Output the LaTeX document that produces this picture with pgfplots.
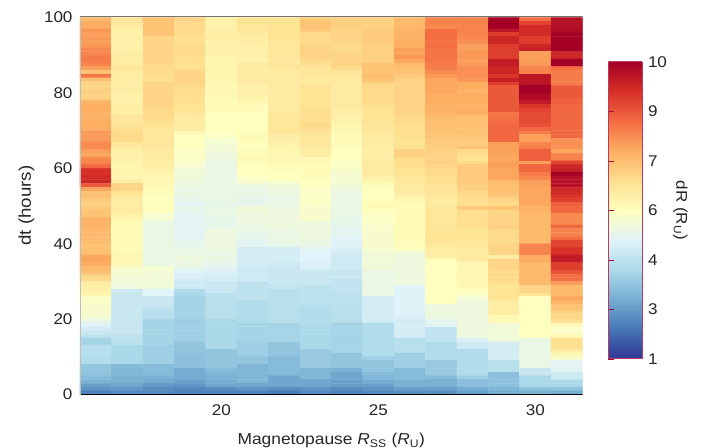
\documentclass[border=0pt]{standalone}
\usepackage{pgfplots}
\pgfplotsset{compat=1.18}
\usepackage{fontspec}
\setmainfont[FakeStretch=1.1]{Liberation Sans}
\pgfplotsset{colormap={rdylbu}{rgb255=(49,54,149) rgb255=(69,117,180) rgb255=(116,173,209) rgb255=(171,217,233) rgb255=(224,243,248) rgb255=(255,255,191) rgb255=(254,224,144) rgb255=(253,174,97) rgb255=(244,109,67) rgb255=(215,48,39) rgb255=(165,0,38)}}
\definecolor{barline}{RGB}{165,10,60}
\begin{document}
\begin{tikzpicture}
\useasboundingbox (-80bp,-53.4bp) rectangle (623bp,394.6bp);
\begin{axis}[
 at={(0,0)},anchor=origin,
 scale only axis,width=502.5bp,height=378bp,
 xmin=15.5,xmax=31.5,ymin=0,ymax=100.27,
 colormap name=rdylbu,point meta min=1,point meta max=10,
 axis line style={draw=none},
 font=\fontsize{15.5bp}{18bp}\selectfont,
 /pgf/number format/assume math mode=true,
 xtick={20,25,30},ytick={0,20,40,60,80,100},
 tick align=inside,x tick style={black,line width=.8pt},major tick length=2.5bp,
 y tick style={draw=none},
 xtick pos=bottom,ytick pos=left,
 tick label style={text=black!85},
 xticklabel style={yshift=-7bp},
 yticklabel style={xshift=-4bp},
 xlabel={Magnetopause \textit{R}\textsubscript{SS} (\textit{R}\textsubscript{U})},
 ylabel={dt (hours)},
 xlabel style={at={(0.5,0)},anchor=base,yshift=-50bp,text=black!85,font=\fontsize{15.8bp}{18bp}\selectfont},
 ylabel style={at={(0,0.5)},anchor=base,yshift=49bp,text=black!85,font=\fontsize{17bp}{18bp}\selectfont},
 colorbar sampled,
 colorbar style={
  at={(1.0517,0.0944)},anchor=south west,
  scale only axis,width=34bp,height=297bp,
  samples=201,axis on top,
  font=\fontsize{15.5bp}{18bp}\selectfont,
  /pgf/number format/assume math mode=true,
  ytick={1,2.5,4,5.5,7,8.5,10},yticklabels={1,3,4,6,7,9,10},
  axis line style={draw=barline!80,line width=1pt},
  y tick style={draw=barline,line width=.8pt},
  tick align=inside,major tick length=6bp,
  ytick pos=left,yticklabel pos=right,
  yticklabel style={xshift=2bp,text=black!85},
  ylabel={dR (R\textsubscript{U})},
  ylabel style={at={(1,0.5)},anchor=base,rotate=180,yshift=34bp,text=black!85,font=\fontsize{15.5bp}{18bp}\selectfont},
 },
]
\addplot[matrix plot*,mesh/cols=16,mesh/ordering=x varies,point meta=explicit]
 table[row sep=\\,header=false,x expr={16+\coordindex-16*floor((\coordindex+0.5)/16)},y expr={99.5-floor((\coordindex+0.5)/16)},meta index=0]{
7.1\\6.2\\6.9\\6.6\\5.9\\6.3\\6.3\\6.8\\6.7\\6.7\\7.1\\7.9\\7.9\\10\\8.2\\9.7\\
7.3\\6.2\\6.9\\6.5\\5.9\\6.3\\6.3\\6.9\\6.7\\6.7\\7.1\\7.9\\7.9\\10\\8.8\\9.7\\
7.3\\6.1\\6.9\\6.5\\5.9\\6.2\\6.3\\6.9\\6.7\\6.7\\7.1\\7.8\\7.9\\10\\9.2\\9.7\\
7.6\\5.9\\6.9\\6.5\\6.0\\6.2\\6.3\\6.8\\6.6\\6.8\\7.2\\8.2\\7.9\\9.6\\9.2\\9.8\\
7.5\\5.9\\6.9\\6.5\\6.0\\6.1\\6.3\\6.5\\6.6\\6.8\\7.2\\8.2\\7.9\\8.9\\9.2\\10\\
7.6\\5.9\\6.6\\6.4\\6.0\\6.0\\6.3\\6.5\\6.6\\6.8\\7.2\\8.2\\7.8\\9.3\\8.9\\10\\
7.5\\5.9\\6.6\\6.4\\5.9\\6.0\\6.2\\6.5\\6.6\\6.8\\7.3\\8.1\\7.7\\9.3\\8.9\\10\\
7.6\\5.9\\6.6\\6.5\\5.9\\5.9\\6.2\\6.6\\6.5\\6.7\\7.3\\8.2\\7.5\\8.9\\9.3\\10\\
7.8\\5.9\\6.6\\6.5\\5.9\\5.9\\6.2\\6.6\\6.5\\6.7\\7.5\\8.1\\7.5\\8.9\\9.4\\10\\
7.9\\6.0\\6.6\\6.5\\5.9\\5.9\\6.2\\6.6\\6.6\\6.7\\7.4\\8.1\\7.6\\8.9\\7.5\\9.3\\
8.0\\6.0\\6.6\\6.4\\5.8\\5.9\\6.2\\6.6\\6.6\\6.7\\7.6\\8.1\\7.6\\8.9\\7.5\\9.3\\
8.0\\6.0\\6.6\\6.4\\5.8\\5.9\\6.1\\6.5\\6.6\\6.7\\7.4\\8.1\\7.5\\9.5\\7.5\\10\\
7.9\\6.1\\6.5\\6.4\\5.8\\6.1\\6.2\\6.4\\6.6\\6.9\\7.1\\8.0\\7.6\\9.5\\7.6\\10\\
7.5\\6.2\\6.5\\6.4\\5.8\\6.1\\6.2\\6.2\\6.5\\6.9\\7.0\\8.0\\7.7\\9.3\\7.9\\8.2\\
6.9\\6.1\\6.5\\6.6\\5.8\\6.0\\6.1\\6.2\\6.2\\6.9\\6.9\\7.8\\7.7\\9.3\\7.9\\8.0\\
8.1\\6.0\\6.4\\6.6\\5.8\\6.1\\6.1\\6.2\\6.2\\7.0\\6.8\\7.6\\7.7\\9.0\\9.6\\8.0\\
7.0\\6.0\\6.4\\6.6\\5.8\\6.1\\6.1\\6.1\\6.1\\6.9\\6.7\\7.4\\7.6\\9.4\\9.6\\8.0\\
6.6\\6.0\\6.6\\6.6\\5.7\\6.0\\6.1\\6.2\\6.1\\6.6\\6.6\\7.4\\7.3\\8.9\\9.6\\8.0\\
6.6\\6.0\\6.6\\6.5\\5.7\\5.9\\6.1\\6.3\\6.1\\6.5\\6.6\\7.4\\7.3\\8.5\\10\\8.5\\
6.7\\6.0\\6.6\\6.4\\5.7\\5.9\\6.1\\6.3\\6.1\\6.5\\6.6\\7.4\\7.2\\8.5\\10\\8.5\\
6.6\\5.9\\6.6\\6.4\\5.7\\5.9\\6.1\\6.3\\6.1\\6.5\\6.6\\7.3\\7.3\\8.5\\9.8\\8.5\\
6.7\\5.9\\6.6\\6.4\\5.6\\5.8\\6.1\\6.3\\6.1\\6.5\\6.6\\7.3\\7.3\\8.5\\9.8\\8.4\\
7.2\\5.9\\6.6\\6.4\\5.6\\5.7\\6.1\\6.3\\6.1\\6.5\\6.6\\7.3\\7.3\\8.5\\9.5\\8.4\\
7.3\\6.0\\6.6\\6.3\\5.6\\5.6\\6.1\\6.3\\6.1\\6.4\\6.6\\7.2\\7.2\\8.5\\9.0\\8.3\\
7.3\\6.0\\6.5\\6.3\\5.6\\5.6\\6.1\\6.4\\6.0\\6.3\\6.6\\7.2\\7.3\\8.5\\8.8\\8.3\\
7.2\\6.0\\6.5\\6.2\\5.5\\5.5\\6.2\\6.4\\6.0\\6.3\\6.6\\7.2\\7.3\\8.1\\8.7\\8.3\\
7.2\\6.2\\6.5\\6.1\\5.5\\5.5\\6.2\\6.4\\5.9\\6.3\\6.5\\7.1\\7.0\\8.1\\8.7\\8.3\\
7.3\\6.2\\6.4\\6.1\\5.5\\5.5\\6.2\\6.4\\5.9\\6.3\\6.5\\7.0\\7.0\\8.2\\8.7\\8.3\\
7.3\\6.3\\6.3\\6.0\\5.5\\5.5\\6.2\\6.5\\5.8\\6.2\\6.4\\7.0\\7.0\\8.3\\8.6\\8.3\\
7.3\\6.4\\6.2\\6.0\\5.5\\5.5\\6.2\\6.4\\5.7\\6.2\\6.4\\7.0\\6.9\\8.3\\8.3\\8.3\\
7.6\\6.5\\6.2\\5.7\\5.5\\5.6\\6.2\\6.3\\5.7\\6.2\\6.4\\6.9\\7.0\\8.3\\8.0\\8.3\\
7.6\\6.5\\6.2\\5.5\\5.4\\5.6\\6.0\\6.2\\5.6\\6.1\\6.4\\6.9\\6.9\\8.3\\7.5\\8.3\\
7.6\\6.5\\6.2\\5.5\\5.2\\5.6\\6.0\\6.2\\5.6\\6.1\\6.3\\6.8\\6.8\\8.3\\7.5\\7.7\\
7.8\\6.2\\6.2\\5.5\\5.2\\5.5\\5.9\\6.2\\5.6\\6.1\\6.3\\6.8\\6.8\\7.5\\7.9\\7.7\\
7.8\\6.0\\6.2\\5.5\\5.1\\5.5\\5.8\\6.1\\5.6\\6.0\\6.4\\6.7\\6.9\\7.5\\8.0\\7.7\\
7.5\\5.9\\6.1\\5.4\\5.1\\5.6\\5.8\\6.0\\5.5\\6.0\\6.7\\6.7\\6.5\\7.5\\8.4\\7.4\\
7.4\\5.9\\6.1\\5.4\\5.0\\5.6\\5.7\\6.0\\5.5\\6.0\\6.7\\6.6\\6.4\\7.4\\8.4\\7.9\\
7.8\\5.9\\6.1\\5.4\\5.0\\5.7\\5.7\\5.7\\5.5\\6.0\\6.5\\6.6\\6.3\\7.4\\8.4\\7.9\\
7.9\\5.8\\6.0\\5.3\\4.9\\5.6\\5.7\\5.7\\5.4\\6.1\\6.4\\6.7\\6.5\\7.5\\7.5\\8.8\\
8.3\\5.8\\6.0\\5.2\\4.9\\5.5\\5.6\\5.6\\5.4\\6.1\\6.4\\6.6\\6.8\\7.5\\8.3\\9.3\\
9.1\\5.8\\5.9\\5.1\\4.9\\5.5\\5.6\\5.6\\5.3\\6.1\\6.3\\6.5\\6.8\\7.4\\8.3\\9.4\\
9.1\\5.8\\5.8\\5.1\\4.9\\5.5\\5.5\\5.6\\5.2\\6.1\\6.3\\6.5\\6.8\\7.4\\8.0\\10\\
9.2\\5.8\\5.7\\5.1\\4.9\\5.4\\5.5\\5.6\\5.2\\5.9\\6.2\\6.4\\6.8\\7.4\\7.8\\9.7\\
9.3\\6.0\\5.7\\5.0\\4.9\\5.3\\5.4\\5.5\\5.2\\5.8\\6.2\\6.4\\6.8\\7.1\\7.5\\9.7\\
8.5\\6.6\\5.7\\5.0\\4.9\\5.0\\5.1\\5.5\\5.1\\5.6\\6.1\\6.3\\6.7\\7.0\\7.5\\9.7\\
7.4\\6.6\\5.6\\4.9\\4.9\\4.9\\5.0\\5.4\\5.0\\5.5\\6.1\\6.3\\6.7\\7.0\\7.4\\9.3\\
6.9\\6.3\\5.6\\4.9\\4.9\\4.9\\5.0\\5.4\\4.9\\5.5\\6.0\\6.2\\6.5\\6.9\\7.4\\9.2\\
7.0\\6.2\\5.5\\4.9\\4.9\\4.8\\4.9\\5.4\\4.9\\5.5\\5.9\\6.2\\6.5\\6.8\\7.4\\9.0\\
6.8\\6.0\\5.5\\4.8\\4.9\\4.8\\4.9\\5.4\\4.9\\5.5\\5.7\\6.1\\6.4\\6.6\\7.4\\8.9\\
6.7\\6.0\\5.5\\4.7\\4.8\\4.8\\4.9\\5.4\\4.9\\5.6\\5.6\\6.1\\6.4\\6.5\\7.4\\8.4\\
6.8\\6.1\\5.6\\4.8\\4.9\\5.1\\5.0\\5.3\\4.9\\5.6\\5.6\\6.2\\6.8\\6.9\\7.2\\8.3\\
6.9\\6.1\\5.5\\4.8\\4.9\\5.1\\5.0\\5.3\\4.9\\5.5\\5.6\\6.2\\6.4\\6.6\\7.2\\8.3\\
6.9\\5.9\\5.2\\4.7\\4.9\\5.0\\5.0\\5.3\\4.9\\5.4\\5.6\\6.2\\6.4\\6.6\\7.1\\7.8\\
7.2\\5.8\\5.2\\4.7\\4.8\\5.0\\5.0\\5.3\\4.8\\5.4\\5.6\\6.2\\6.4\\6.6\\7.1\\7.8\\
7.2\\5.6\\4.9\\4.7\\4.8\\5.0\\5.0\\5.0\\4.8\\5.4\\5.6\\6.2\\6.4\\6.6\\7.1\\7.8\\
7.2\\5.6\\4.9\\4.7\\4.8\\4.9\\5.0\\5.0\\4.8\\5.3\\5.6\\6.2\\6.4\\6.7\\7.1\\8.3\\
7.1\\5.6\\4.9\\4.7\\5.0\\4.9\\4.9\\5.0\\4.7\\5.3\\5.6\\6.3\\6.3\\6.5\\7.1\\7.9\\
7.1\\5.6\\4.9\\4.7\\5.0\\4.8\\4.9\\5.0\\4.7\\5.3\\5.6\\6.3\\6.3\\6.5\\7.1\\7.9\\
7.1\\5.6\\4.9\\4.7\\5.0\\4.8\\4.9\\5.0\\4.6\\5.3\\5.6\\6.3\\6.3\\6.5\\7.1\\8.2\\
7.0\\5.6\\4.9\\4.8\\5.0\\4.7\\4.9\\4.9\\4.6\\5.3\\5.6\\6.3\\6.2\\6.5\\7.1\\8.8\\
6.9\\5.6\\4.9\\4.8\\5.0\\4.7\\4.8\\4.9\\4.6\\5.3\\5.6\\6.2\\6.2\\6.6\\7.9\\8.8\\
7.0\\5.6\\4.9\\4.9\\5.0\\4.4\\4.4\\4.7\\4.5\\5.2\\5.5\\6.0\\6.1\\6.6\\7.9\\9.1\\
7.0\\5.7\\4.9\\4.9\\4.9\\4.4\\4.4\\4.6\\4.4\\5.1\\5.1\\6.0\\6.1\\6.6\\7.9\\9.1\\
7.4\\5.7\\4.9\\5.0\\4.9\\4.4\\4.4\\4.6\\4.3\\5.1\\5.0\\6.0\\6.1\\6.0\\7.3\\9.5\\
7.4\\5.7\\4.9\\5.0\\4.9\\4.4\\4.4\\4.6\\4.3\\5.1\\5.0\\5.5\\6.1\\6.6\\7.3\\9.5\\
7.3\\5.7\\4.9\\4.9\\4.8\\4.4\\4.3\\4.5\\4.3\\5.1\\5.0\\5.5\\5.7\\6.6\\7.1\\8.9\\
7.1\\5.3\\5.2\\4.8\\4.7\\4.3\\4.2\\4.5\\4.3\\5.1\\5.0\\5.5\\5.7\\6.6\\7.1\\8.9\\
7.0\\5.2\\5.2\\4.6\\4.5\\4.3\\4.2\\4.2\\4.2\\4.9\\5.0\\5.5\\5.7\\6.5\\7.1\\8.6\\
6.6\\5.2\\5.1\\4.5\\4.4\\4.3\\4.2\\4.2\\4.2\\4.9\\5.0\\5.5\\5.7\\6.5\\7.1\\8.2\\
6.5\\5.1\\5.1\\4.4\\4.4\\4.3\\4.2\\4.2\\4.1\\4.9\\5.0\\5.5\\5.7\\6.5\\7.1\\8.2\\
6.0\\5.1\\5.1\\4.3\\4.2\\4.0\\4.2\\4.2\\4.1\\4.9\\5.0\\5.5\\5.7\\6.4\\7.1\\7.5\\
6.0\\5.0\\5.1\\4.3\\4.2\\4.0\\4.1\\4.0\\4.1\\4.9\\4.6\\5.5\\5.7\\6.3\\6.6\\7.1\\
5.9\\4.3\\4.6\\3.8\\4.2\\4.0\\3.9\\4.0\\4.1\\4.9\\4.6\\5.5\\5.5\\6.3\\6.6\\7.1\\
5.8\\4.2\\4.6\\3.7\\3.9\\4.0\\3.9\\4.0\\4.0\\4.9\\4.6\\5.5\\5.4\\6.3\\6.3\\7.1\\
5.4\\4.2\\4.2\\3.6\\3.9\\4.0\\3.9\\4.0\\4.0\\4.4\\4.6\\5.5\\5.2\\6.3\\5.5\\7.4\\
5.4\\4.2\\4.2\\3.6\\3.9\\3.8\\3.9\\4.0\\4.0\\4.4\\4.6\\5.5\\5.0\\6.0\\5.5\\7.2\\
5.3\\4.2\\4.2\\3.6\\3.9\\3.8\\3.9\\3.9\\3.9\\4.4\\4.6\\5.0\\5.0\\6.0\\5.5\\6.9\\
5.3\\4.2\\4.0\\3.6\\3.9\\3.8\\3.9\\3.8\\3.9\\4.4\\4.6\\5.0\\5.0\\6.0\\5.5\\6.9\\
5.3\\4.2\\3.9\\3.6\\3.9\\3.8\\3.9\\3.8\\3.9\\4.4\\4.6\\5.0\\5.0\\6.0\\5.5\\6.6\\
5.2\\4.2\\3.9\\3.6\\3.9\\3.8\\3.9\\3.8\\3.9\\4.4\\4.5\\5.0\\5.0\\5.7\\5.5\\6.6\\
4.9\\4.2\\3.6\\3.5\\3.7\\3.8\\3.9\\3.8\\3.9\\4.4\\4.4\\4.7\\5.0\\5.7\\5.5\\6.4\\
4.6\\4.2\\3.6\\3.5\\3.7\\3.6\\3.6\\3.8\\3.6\\3.8\\4.4\\4.7\\5.0\\5.1\\5.5\\5.7\\
4.4\\4.2\\3.6\\3.5\\3.7\\3.6\\3.6\\3.7\\3.6\\3.8\\4.4\\4.1\\5.0\\5.1\\5.5\\5.4\\
4.2\\4.2\\3.6\\3.5\\3.7\\3.6\\3.6\\3.7\\3.6\\3.8\\4.4\\4.1\\5.0\\5.1\\5.5\\5.4\\
4.0\\4.0\\3.6\\3.5\\3.7\\3.6\\3.6\\3.7\\3.6\\3.8\\4.4\\4.1\\5.0\\5.1\\5.5\\5.7\\
3.6\\4.0\\3.6\\3.5\\3.7\\3.6\\3.6\\3.7\\3.6\\3.8\\3.9\\4.1\\4.5\\5.1\\4.9\\6.4\\
3.6\\3.9\\3.6\\3.3\\3.7\\3.5\\3.3\\3.7\\3.6\\3.8\\3.9\\3.8\\4.3\\4.4\\4.9\\6.4\\
3.9\\3.7\\3.5\\3.3\\3.7\\3.5\\3.3\\3.7\\3.6\\3.8\\3.9\\3.8\\4.3\\4.4\\4.9\\6.4\\
3.9\\3.7\\3.5\\3.3\\3.3\\3.5\\3.3\\3.4\\3.6\\3.8\\3.9\\3.8\\3.8\\4.4\\4.9\\6.0\\
3.9\\3.7\\3.5\\3.2\\3.3\\3.5\\3.3\\3.4\\3.3\\3.8\\3.5\\3.8\\3.8\\4.4\\4.9\\5.7\\
3.8\\3.7\\3.5\\3.2\\3.3\\3.3\\3.1\\3.4\\3.3\\3.5\\3.5\\3.8\\3.8\\4.4\\4.9\\5.3\\
3.8\\3.7\\3.5\\3.2\\3.3\\3.3\\3.1\\3.4\\3.3\\3.3\\3.5\\3.4\\3.8\\3.9\\4.9\\4.7\\
3.3\\3.1\\3.1\\3.2\\3.3\\3.0\\3.1\\3.4\\3.3\\3.3\\3.5\\3.4\\3.8\\3.9\\4.9\\4.7\\
3.3\\3.0\\3.1\\2.8\\3.1\\3.0\\3.1\\3.0\\2.9\\3.3\\3.1\\3.4\\3.8\\3.9\\4.2\\4.7\\
3.3\\3.0\\3.1\\2.8\\3.0\\3.0\\3.1\\3.0\\2.7\\3.1\\3.1\\3.4\\3.8\\3.2\\4.2\\4.3\\
3.1\\2.9\\2.9\\2.8\\2.9\\3.0\\2.7\\3.0\\2.7\\3.0\\3.1\\3.1\\3.5\\3.2\\3.7\\4.3\\
2.9\\2.9\\2.8\\2.6\\2.8\\3.0\\2.7\\2.7\\2.6\\2.8\\2.9\\2.9\\3.2\\3.2\\3.7\\3.7\\
2.6\\2.7\\2.5\\2.4\\2.7\\2.7\\2.7\\2.7\\2.6\\2.6\\2.9\\2.9\\3.2\\3.2\\3.7\\3.7\\
2.4\\2.5\\2.3\\2.2\\2.3\\2.4\\2.3\\2.4\\2.3\\2.4\\2.6\\2.6\\2.8\\3.0\\3.2\\3.3\\
2.1\\2.2\\2.2\\2.1\\2.1\\2.1\\2.0\\2.2\\2.1\\2.2\\2.3\\2.3\\2.6\\2.8\\2.9\\2.8\\
};
\draw[black,line width=1pt] (rel axis cs:0,0) -- (rel axis cs:1,0);
\draw[gray!90!black,line width=1pt] (rel axis cs:0,1) -- (rel axis cs:1,1);
\draw[gray!50,line width=.8pt] (rel axis cs:0,0) -- (rel axis cs:0,1);
\end{axis}
\end{tikzpicture}
\end{document}
